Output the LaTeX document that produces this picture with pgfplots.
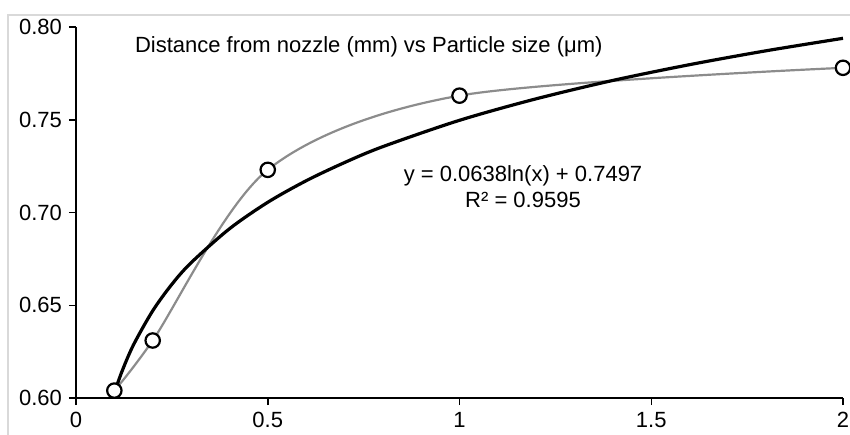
\documentclass[border=0pt]{standalone}
\usepackage{fontspec}
\setmainfont{Liberation Sans}
\usepackage{pgfplots}
\pgfplotsset{compat=1.18}

\definecolor{frame}{HTML}{D9D9D9}
\definecolor{smoothgray}{HTML}{8C8C8C}

\begin{document}
\begin{tikzpicture}
    \begin{axis}[
        scale only axis,
        width=383.5pt,
        height=185.5pt,
        xmin=0, xmax=2,
        ymin=0.6, ymax=0.8,
        xtick={0,0.5,1,1.5,2},
        xticklabels={0,0.5,1,1.5,2},
        ytick={0.6,0.65,0.7,0.75,0.8},
        yticklabel style={/pgf/number format/.cd, fixed, fixed zerofill, precision=2},
        /pgf/number format/assume math mode=true,
        axis x line=bottom,
        axis y line=left,
        axis line style={-, line width=0.75pt, black},
        tick style={line width=0.75pt, black},
        tick align=outside,
        major tick length=3.5pt,
        font=\fontsize{11}{13}\selectfont,
        clip=false,
        ]
        % measured points, smoothed grey line
        \addplot[smoothgray, line width=1.1pt, smooth, tension=0.5,
                 mark=*, mark size=3.6pt,
                 mark options={fill=white, draw=black, line width=1.1pt}]
            coordinates {
            (0.1, 0.604)
            (0.2, 0.631)
            (0.5, 0.723)
            (1.0, 0.763)
            (2.0, 0.778)
        };
        % logarithmic trendline, y = 0.0638 ln(x) + 0.7497
        \addplot[black, line width=1.6pt, smooth, no marks] coordinates {
            (0.10, 0.6028)
            (0.12, 0.6144)
            (0.15, 0.6287)
            (0.20, 0.6470)
            (0.25, 0.6613)
            (0.30, 0.6729)
            (0.40, 0.6912)
            (0.50, 0.7055)
            (0.60, 0.7171)
            (0.70, 0.7269)
            (0.80, 0.7355)
            (1.00, 0.7497)
            (1.20, 0.7613)
            (1.40, 0.7712)
            (1.60, 0.7797)
            (1.80, 0.7872)
            (2.00, 0.7939)
        };
        \node[anchor=base west, font=\fontsize{11}{13}\selectfont]
            at (axis cs:0.1356,0.786) {Distance from nozzle (mm) vs Particle size (μm)};
        \node[align=center, font=\fontsize{11}{13}\selectfont]
            at (axis cs:1.1656,0.714) {y = 0.0638ln(x) + 0.7497\\R² = 0.9595};
    \end{axis}
    \pgfresetboundingbox
    \useasboundingbox ([shift={(-38pt,-18pt)}]current axis.south west)
        rectangle ([shift={(3.5pt,13.5pt)}]current axis.north east);
    \draw[frame, line width=0.75pt]
        ([shift={(-34pt,-20pt)}]current axis.south west)
        -- ([shift={(-34pt,6pt)}]current axis.south west |- current axis.north west)
        -- ([shift={(10pt,6pt)}]current axis.north east);
\end{tikzpicture}
\end{document}
